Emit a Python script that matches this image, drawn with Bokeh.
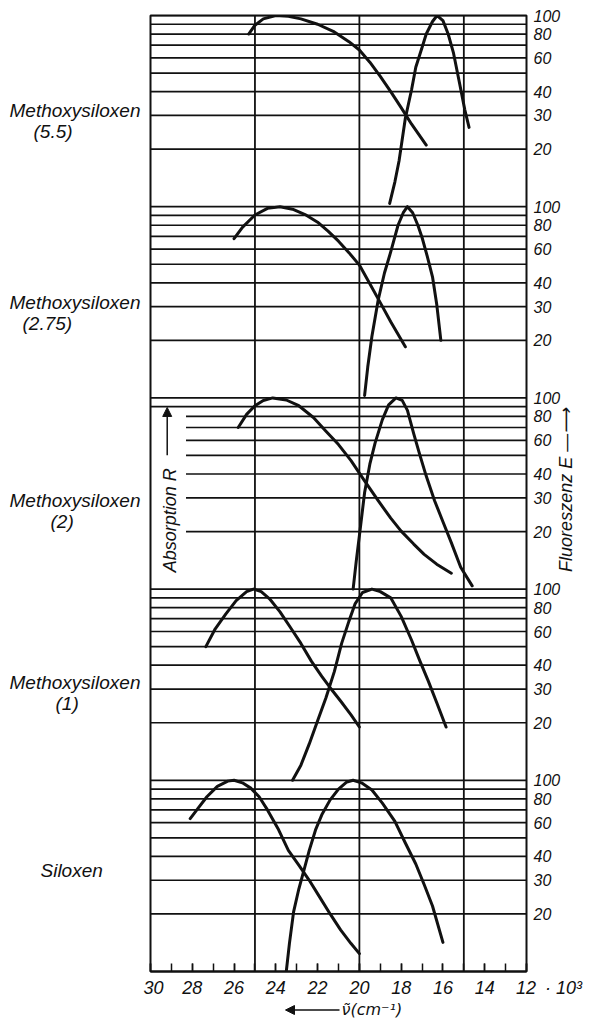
import math
from bokeh.plotting import figure
from bokeh.layouts import row, column
from bokeh.models import (Range1d, LinearAxis, FixedTicker, CustomJSTickFormatter,
                          Label, Arrow, NormalHead)
from bokeh.core.properties import value
from bokeh.embed import file_html
from bokeh.resources import INLINE

# ---------------- data ----------------
x_major_ticks = [30, 28, 26, 24, 22, 20, 18, 16, 14, 12]
x_minor_ticks = list(range(12, 31))
x_unit_suffix = "\u2002· 10³"
x_axis_title = "ν̃(cm⁻¹)"
right_title = "Fluoreszenz E —⟶"
left_title = "Absorption R"
vertical_lines = [25, 20, 15]
grid_levels = [100, 90, 80, 70, 60, 50, 40, 30, 20]
right_tick_values = [20, 30, 40, 60, 80, 100]

# panels listed bottom -> top
panel_main = ["Siloxen", "Methoxysiloxen", "Methoxysiloxen", "Methoxysiloxen", "Methoxysiloxen"]
panel_sub = ["", "(1)", "(2)", "(2.75)", "(5.5)"]

# Siloxen
sil_abs_x = [28.1, 27.7, 27.3, 26.8, 26.3, 26.0, 25.6, 25.2, 24.8, 24.4, 23.9, 23.4, 22.9, 22.4, 21.9, 21.4, 20.9, 20.4, 20.0]
sil_abs_v = [63, 72, 82, 93, 99, 100, 97, 91, 82, 70, 56, 43, 36, 30, 24.5, 20, 16.5, 14, 12.4]
sil_fl_x = [23.5, 23.35, 23.15, 22.9, 22.65, 22.4, 22.1, 21.8, 21.4, 21.0, 20.6, 20.3, 19.9, 19.4, 18.9, 18.3, 17.8, 17.3, 16.9, 16.5, 16.0]
sil_fl_v = [10, 14, 20.5, 27, 34, 43, 55, 66, 79, 90, 98, 100, 97, 89, 76, 61, 47, 36.5, 28.5, 22, 14.2]

# Methoxysiloxen (1)
m1_abs_x = [27.35, 26.9, 26.4, 25.9, 25.4, 25.07, 24.7, 24.3, 23.8, 23.3, 22.8, 22.3, 21.8, 21.4, 20.9, 20.4, 20.0]
m1_abs_v = [50, 62, 74, 87, 97, 100, 97, 89, 76, 63, 52, 42, 35, 30.5, 26, 22, 19]
m1_fl_x = [23.2, 22.8, 22.4, 22.0, 21.6, 21.2, 20.85, 20.5, 20.2, 19.85, 19.4, 19.0, 18.5, 18.0, 17.5, 17.1, 16.7, 16.3, 15.85]
m1_fl_v = [10, 12, 15.5, 20.5, 27, 37, 52, 68, 84, 96, 100, 97, 90, 72, 54, 42, 33, 25.5, 19]

# Methoxysiloxen (2)
m2_abs_x = [25.8, 25.4, 25.0, 24.6, 24.15, 23.5, 22.9, 22.2, 21.6, 21.0, 20.4, 19.8, 19.1, 18.5, 18.0, 17.4, 16.9, 16.3, 15.6]
m2_abs_v = [70, 82, 91, 97, 100, 97.5, 91, 79, 67, 57, 47, 37.5, 29, 23.5, 20.1, 17.2, 15.2, 13.5, 12.1]
m2_fl_x = [20.3, 20.15, 20.0, 19.75, 19.5, 19.25, 18.9, 18.6, 18.25, 17.95, 17.7, 17.4, 17.1, 16.8, 16.4, 16.0, 15.6, 15.15, 14.6]
m2_fl_v = [10, 14, 19, 32, 45, 58, 77, 92, 100, 97, 86, 65, 50, 39, 29, 22.5, 17.5, 13, 10.4]

# Methoxysiloxen (2.75)
m275_abs_x = [26.0, 25.6, 25.0, 24.4, 23.8, 23.2, 22.6, 22.0, 21.5, 21.0, 20.5, 20.0, 19.5, 19.0, 18.5, 17.8]
m275_abs_v = [68, 78, 90.5, 98, 100, 97, 91, 83, 74.5, 66, 57.5, 49.5, 39.5, 31.5, 25, 18.5]
m275_fl_x = [19.75, 19.6, 19.4, 19.1, 18.8, 18.5, 18.15, 17.9, 17.7, 17.45, 17.2, 17.0, 16.75, 16.5, 16.3, 16.1]
m275_fl_v = [10.3, 14.5, 21, 32.5, 45, 58, 80, 93, 100, 93, 80, 69, 55, 43, 31, 20]

# Methoxysiloxen (5.5)
m55_abs_x = [25.3, 25.0, 24.6, 24.0, 23.4, 22.8, 22.0, 21.2, 20.5, 20.0, 19.5, 19.0, 18.5, 18.0, 17.5, 16.8]
m55_abs_v = [80, 89, 96, 100, 99, 96, 90, 82, 73, 66, 57, 48, 40, 33, 27, 21]
m55_fl_x = [18.55, 18.3, 18.1, 17.8, 17.5, 17.3, 17.0, 16.8, 16.5, 16.28, 16.0, 15.75, 15.5, 15.2, 14.95, 14.75]
m55_fl_v = [10.4, 13.5, 17.4, 29, 41, 53.6, 68, 80, 93, 100, 94, 80, 64, 44, 32, 26]

curves = [
    (sil_abs_x, sil_abs_v, sil_fl_x, sil_fl_v),
    (m1_abs_x, m1_abs_v, m1_fl_x, m1_fl_v),
    (m2_abs_x, m2_abs_v, m2_fl_x, m2_fl_v),
    (m275_abs_x, m275_abs_v, m275_fl_x, m275_fl_v),
    (m55_abs_x, m55_abs_v, m55_fl_x, m55_fl_v),
]

N = len(panel_main)


def ypos(k, v):
    # each panel is one log decade (10..100), stacked vertically
    return k + math.log10(v) - 1


FONT = "Liberation Sans"
INK = "#111111"
W = 589
TOP = 15          # frame top (px)
MAIN_H = 1001     # main canvas height
BOTTOM = 30       # main bottom border -> frame bottom at 971
BOT_H = 1018 - MAIN_H
LEFT_W = 143      # width of the name strip
LEFT_B = 7        # main left border -> frame left at 150
RIGHT_B = 61      # main right border -> frame right at 528

y_range = Range1d(0, N)

# ---------- left strip with the sample names ----------
pl = figure(width=LEFT_W, height=MAIN_H, x_range=Range1d(0, LEFT_W), y_range=y_range,
            output_backend="svg", toolbar_location=None,
            x_axis_location=None, y_axis_location=None,
            min_border_left=0, min_border_right=0, min_border_top=TOP, min_border_bottom=BOTTOM)
pl.xgrid.visible = False
pl.ygrid.visible = False
pl.outline_line_color = None

main_y = [0.528, 1.511, 2.463, 3.499, 4.503]
main_x = [40, 9, 9, 9, 9]
sub_x = [0, 55, 50, 22, 33]
lx, ly, lt = [], [], []
for k in range(N):
    lx.append(main_x[k]); ly.append(main_y[k]); lt.append(panel_main[k])
    if panel_sub[k]:
        lx.append(sub_x[k]); ly.append(main_y[k] - 0.11); lt.append(panel_sub[k])
pl.text(x=lx, y=ly, text=lt, text_font=value(FONT), text_font_style="italic",
        text_font_size="19px", text_color=INK, text_align="left", text_baseline="middle")

# ---------- main chart ----------
p = figure(width=W - LEFT_W, height=MAIN_H, x_range=Range1d(30, 12), y_range=y_range,
           output_backend="svg", toolbar_location=None, y_axis_location=None,
           min_border_left=LEFT_B, min_border_right=RIGHT_B, min_border_top=TOP,
           min_border_bottom=BOTTOM)
p.xgrid.visible = False
p.ygrid.visible = False
p.outline_line_color = INK
p.outline_line_width = 2

# bottom axis
xa = p.xaxis[0]
xa.ticker = FixedTicker(ticks=x_major_ticks, minor_ticks=x_minor_ticks)
pad = "\u2007" * 4 + "\u2008"
xa.major_label_overrides = {12: pad + "12" + x_unit_suffix}
xa.major_tick_in = 8
xa.major_tick_out = 0
xa.minor_tick_in = 8
xa.minor_tick_out = 0
xa.axis_line_width = 2
xa.axis_line_color = INK
xa.major_tick_line_width = 1.5
xa.minor_tick_line_width = 1.5
xa.major_tick_line_color = INK
xa.minor_tick_line_color = INK
xa.major_label_text_font = FONT
xa.major_label_text_font_style = "italic"
xa.major_label_text_font_size = "18px"
xa.major_label_text_color = INK
xa.major_label_standoff = 6

# right axis with per-panel log labels
right_ticks = [ypos(k, v) for k in range(N) for v in right_tick_values]
ra = LinearAxis(ticker=FixedTicker(ticks=right_ticks, minor_ticks=[]),
                formatter=CustomJSTickFormatter(code="""
const k = Math.floor(tick + 1e-6);
const f = tick - k;
if (f < 1e-6) { return "100"; }
return String(Math.round(Math.pow(10, 1 + f)));
"""))
ra.axis_line_color = None
ra.major_tick_in = 0
ra.major_tick_out = 0
ra.major_label_standoff = 7
ra.major_label_text_font = FONT
ra.major_label_text_font_style = "italic"
ra.major_label_text_font_size = "16px"
ra.major_label_text_color = INK
p.add_layout(ra, "right")

# outer right axis carrying the rotated "Fluoreszenz E" title, starting near the panel-3 foot
title_tick = 2.09
ra2 = LinearAxis(ticker=FixedTicker(ticks=[title_tick], minor_ticks=[]))
ra2.major_label_overrides = {title_tick: right_title}
ra2.major_label_orientation = math.pi / 2
ra2.axis_line_color = None
ra2.major_tick_in = 0
ra2.major_tick_out = 0
ra2.major_label_standoff = 3
ra2.major_label_text_font = FONT
ra2.major_label_text_font_style = "italic"
ra2.major_label_text_font_size = "18px"
ra2.major_label_text_color = INK
p.add_layout(ra2, "right")

# horizontal grid lines per panel
hx0, hx1, hy = [], [], []
for k in range(N):
    for v in grid_levels:
        start = 30
        if k == 2 and v <= 80:
            start = 28.3  # room for the "Absorption R" label
        hx0.append(start)
        hx1.append(12)
        hy.append(ypos(k, v))
p.segment(x0=hx0, y0=hy, x1=hx1, y1=hy, line_color=INK, line_width=1.7)

# vertical lines
p.segment(x0=vertical_lines, y0=[0] * len(vertical_lines), x1=vertical_lines,
          y1=[N] * len(vertical_lines), line_color=INK, line_width=1.8)

# curves
for k, (ax, av, fx, fv) in enumerate(curves):
    p.line(ax, [ypos(k, v) for v in av], line_color=INK, line_width=3,
           line_join="round", line_cap="round")
    p.line(fx, [ypos(k, v) for v in fv], line_color=INK, line_width=3,
           line_join="round", line_cap="round")

# Absorption R (inside middle panel)
p.add_layout(Label(x=29.05, y=2.36, text=left_title, angle=math.pi / 2, text_font=FONT,
                   text_font_style="italic", text_font_size="18px", text_color=INK,
                   text_align="center", text_baseline="middle"))
p.add_layout(Arrow(x_start=29.2, y_start=2.70, x_end=29.2, y_end=2.95, line_color=INK,
                   line_width=1.5, end=NormalHead(size=9, fill_color=INK, line_color=INK)))

# ---------- bottom strip with the x-axis title ----------
pb = figure(width=W, height=BOT_H, x_range=Range1d(0, W), y_range=Range1d(0, BOT_H),
            output_backend="svg", toolbar_location=None,
            x_axis_location=None, y_axis_location=None, min_border=0)
pb.xgrid.visible = False
pb.ygrid.visible = False
pb.outline_line_color = None
pb.text(x=[341], y=[BOT_H / 2 + 0.5], text=[x_axis_title], text_font=value("DejaVu Sans"),
        text_font_style="italic", text_font_size="16px", text_color=INK,
        text_align="left", text_baseline="middle")
pb.add_layout(Arrow(x_start=339, y_start=BOT_H / 2, x_end=285, y_end=BOT_H / 2, line_color=INK,
                    line_width=1.6, end=NormalHead(size=9, fill_color=INK, line_color=INK)))

layout = column(row(pl, p), pb)
open("out.html", "w").write(file_html(layout, INLINE))
